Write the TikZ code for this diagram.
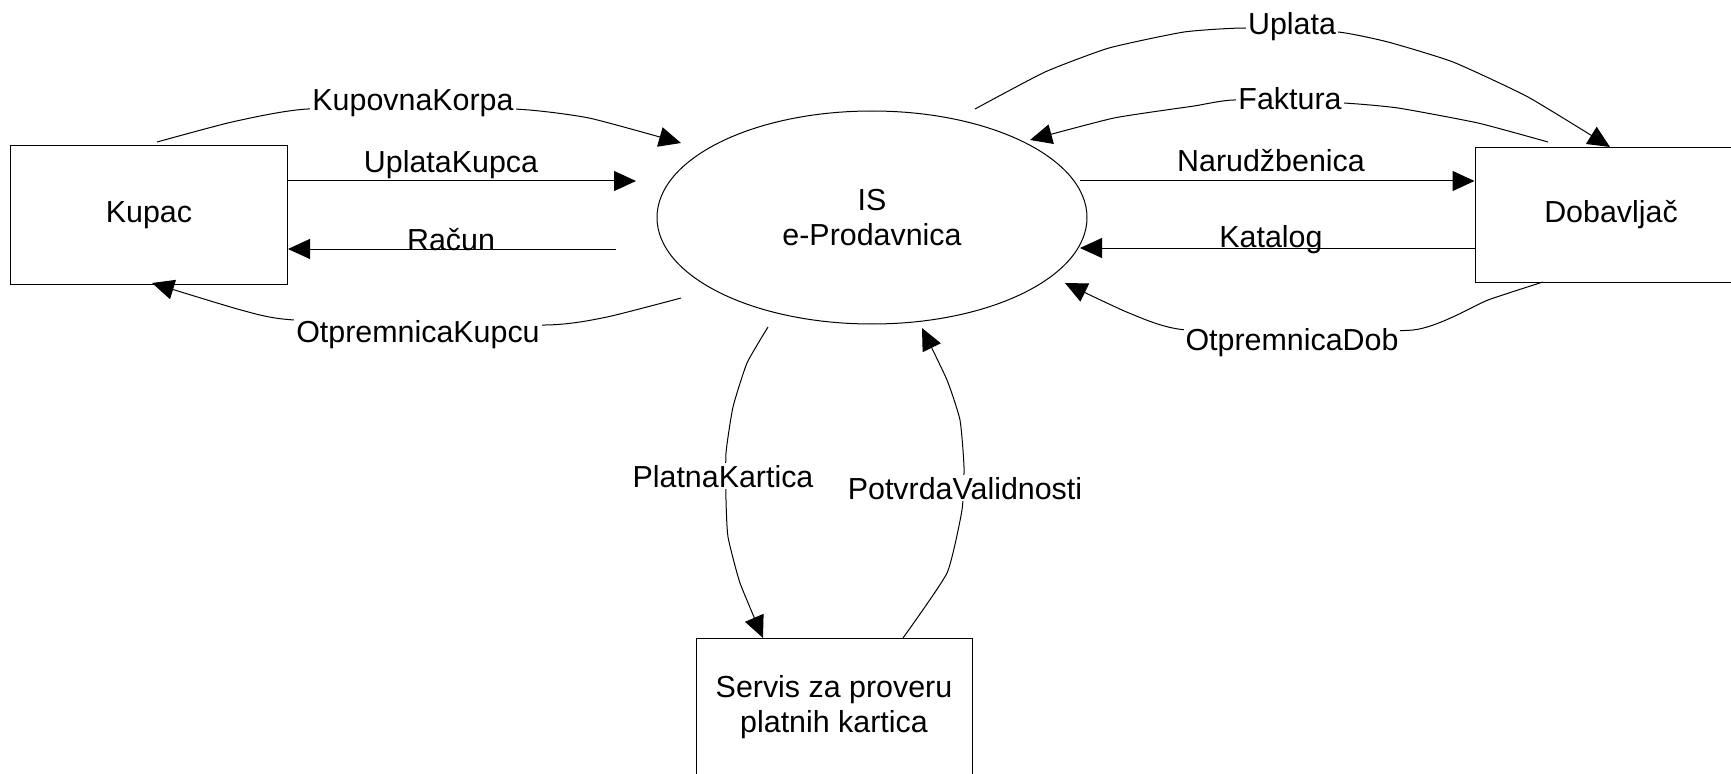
\documentclass[tikz,border=0pt]{standalone}
\usepackage{fontspec}
\setmainfont{Liberation Sans}
\usetikzlibrary{arrows.meta,shapes.geometric}
\begin{document}
\begin{tikzpicture}[x=0.5pt,y=0.5pt,
  font=\fontsize{15.2}{17.5}\selectfont,
  ent/.style={draw,line width=0.5pt,minimum width=138.5pt,minimum height=69pt,inner sep=0pt,align=center},
  proc/.style={draw,ellipse,line width=0.5pt,minimum width=215pt,minimum height=106.5pt,inner sep=0pt,align=center},
  flow/.style={line width=0.5pt,-{Triangle[length=11pt,width=10pt]}},
  lbl/.style={inner sep=1pt,anchor=base},
  clbl/.style={lbl,fill=white}]
\useasboundingbox (0,0) rectangle (1731,773);
% entities
\node[ent] (kupac) at (149,558) {Kupac};
\node[ent,minimum width=136pt,minimum height=67pt] (dob) at (1611,558) {Dobavljač};
\node[ent,minimum width=138pt] (servis) at (834,66) {Servis za proveru\\platnih kartica};
\node[proc] (is) at (872,555.5) {IS\\e-Prodavnica};
% straight flows
\coordinate (ukE) at (636,592);
\coordinate (raS) at (616,524);
\coordinate (naS) at (1080,592);
\coordinate (kaE) at (1080,525);
\draw[flow] (kupac.east |- ukE) -- (ukE);
\draw[flow] (raS) -- (kupac.east |- raS);
\draw[flow] (naS) -- (dob.west |- naS);
\draw[flow] (dob.west |- kaE) -- (kaE);
\node[lbl] (lUK) at (451,600) {UplataKupca};
\node[lbl] (lRa) at (451,523) {Račun};
\node[lbl] (lNa) at (1271,601) {Narudžbenica};
\node[lbl] (lKa) at (1271,525) {Katalog};
% curved flows
\coordinate (kkS) at (157,631); \coordinate (kkE) at (681,630);
\coordinate (okS) at (681,475); \coordinate (okE) at (152,490);
\coordinate (uS) at (975,664);  \coordinate (uE) at (1610,626);
\coordinate (fS) at (1548,631); \coordinate (fE) at (1030,633);
\coordinate (odS) at (1543,491); \coordinate (odE) at (1065,490);
\coordinate (pkS) at (768,446); \coordinate (pkE) at (763,135);
\coordinate (pvS) at (903,135); \coordinate (pvE) at (922,445);
\draw[flow] plot[smooth,tension=0.3] coordinates {(kkS) (232,651) (308,664) (513,664) (589,655) (kkE)};
\draw[flow] plot[smooth,tension=0.3] coordinates {(okS) (607,456) (545,448) (295,453) (241,463) (okE)};
\draw[flow] plot[smooth,tension=0.3] coordinates {(uS) (1045,701) (1109,725) (1184,741) (1244,745) (1338,741) (1388,731) (1453,711) (1528,676) (uE)};
\draw[flow] plot[smooth,tension=0.3] coordinates {(fS) (1478,650) (1398,665) (1343,670) (1234,673) (1194,667) (1114,655) (fE)};
\draw[flow] plot[smooth,tension=0.3] coordinates {(odS) (1488,473) (1413,443) (1187,443) (1129,460) (odE)};
\draw[flow] plot[smooth,tension=0.3] coordinates {(pkS) (747,410) (733,366) (726,320) (726,273) (728,236) (740,190) (pkE)};
\draw[flow] plot[smooth,tension=0.3] coordinates {(pvS) (947,200) (962,263) (964,306) (960,353) (947,393) (pvE)};
\node[clbl] (lKK) at (413,662) {KupovnaKorpa};
\node[clbl] (lOK) at (418,431) {OtpremnicaKupcu};
\node[clbl] (lU) at (1292,738) {Uplata};
\node[clbl] (lF) at (1290,663) {Faktura};
\node[clbl] (lOD) at (1292,423) {OtpremnicaDob};
\node[clbl] (lPK) at (723,286) {PlatnaKartica};
\node[clbl] (lPV) at (965,274) {PotvrdaValidnosti};
\end{tikzpicture}
\end{document}
